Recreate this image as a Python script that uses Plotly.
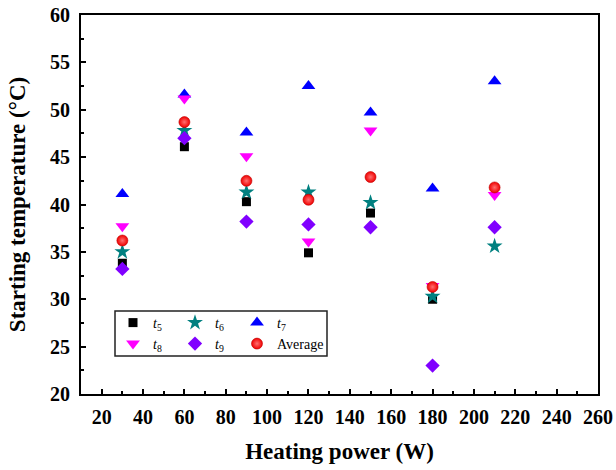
import plotly.graph_objects as go

power = [30, 60, 90, 120, 150, 180, 210]
t5 = [33.8, 46.1, 40.3, 34.9, 39.1, 30.0, None]
t6 = [35.0, 47.8, 41.3, 41.3, 40.2, 30.3, 35.6]
t7 = [41.1, 51.6, 47.6, 52.5, 49.7, 41.7, 53.0]
t8 = [37.7, 51.2, 45.1, 36.1, 47.8, 31.4, 41.0]
t9 = [33.2, 47.0, 38.2, 37.9, 37.6, 23.0, 37.6]
average = [36.2, 48.7, 42.5, 40.5, 42.9, 31.3, 41.8]

FONT = "Liberation Serif"
fig = go.Figure()

series = [
    ("<i>t</i><sub>5</sub>", t5, "square", "#000000", 9, "legend"),
    ("<i>t</i><sub>6</sub>", t6, "star", "#008080", 12, "legend"),
    ("<i>t</i><sub>7</sub>", t7, "triangle-up", "#0000FF", 12, "legend"),
    ("<i>t</i><sub>8</sub>", t8, "triangle-down", "#FF00FF", 12, "legend2"),
    ("<i>t</i><sub>9</sub>", t9, "diamond", "#8000FF", 11, "legend2"),
]
for name, vals, sym, col, sz, lg in series:
    fig.add_trace(go.Scatter(
        x=power, y=vals, mode="markers", name=name, legend=lg,
        marker=dict(symbol=sym, color=col, size=sz, line=dict(width=0)),
    ))

fig.add_trace(go.Scatter(
    x=power, y=average, mode="markers", name="Average", legend="legend2",
    legendwidth=70,
    marker=dict(symbol="circle", color="#F00000", size=11,
                line=dict(width=0.6, color="#c00000"),
                gradient=dict(type="radial", color="#ff7070")),
))

axis_common = dict(
    showline=True, linecolor="black", linewidth=2, mirror=True,
    ticks="inside", ticklen=5, tickwidth=2, tickcolor="black",
    showgrid=False, zeroline=False, automargin=False,
    tickfont=dict(family=FONT, size=20, color="black", weight="bold"),
)

TITLE_FONT = dict(family=FONT, size=23, color="black", weight="bold")

fig.update_xaxes(
    range=[10, 260], tick0=20, dtick=20,
    minor=dict(ticks="inside", ticklen=3, tickwidth=2, tickcolor="black", dtick=10, tick0=10, showgrid=False),
    title=dict(text="Heating power (W)", font=TITLE_FONT, standoff=16),
    ticklabelstandoff=4,
    **axis_common,
)
fig.update_yaxes(
    range=[20, 60], tick0=20, dtick=5,
    minor=dict(ticks="inside", ticklen=3, tickwidth=2, tickcolor="black", dtick=2.5, tick0=20, showgrid=False),
    title=dict(text="Starting temperature (°C)", font=TITLE_FONT, standoff=18),
    ticklabelstandoff=5,
    **axis_common,
)

leg_common = dict(
    orientation="h", xanchor="left", yanchor="top",
    bgcolor="rgba(0,0,0,0)", borderwidth=0,
    font=dict(family=FONT, size=14, color="black"),
    entrywidth=17, entrywidthmode="pixels", itemwidth=30,
    tracegroupgap=0,
)

W, H = 616, 470
L, R, T, B = 81, 18, 15, 76
pw, ph = W - L - R, H - T - B

def px_x(p):
    return (p - L) / pw

def px_y(p):
    return (H - B - p) / ph

fig.update_layout(
    template="none",
    width=W, height=H,
    margin=dict(l=L, r=R, t=T, b=B),
    paper_bgcolor="white", plot_bgcolor="white",
    font=dict(family=FONT, color="black"),
    legend=dict(x=px_x(113), y=px_y(307), **leg_common),
    legend2=dict(x=px_x(113), y=px_y(328), **leg_common),
    shapes=[dict(type="rect", xref="paper", yref="paper",
                 x0=px_x(115), x1=px_x(327), y0=px_y(356), y1=px_y(311),
                 line=dict(color="#222222", width=1.5), fillcolor="rgba(0,0,0,0)")],
)

fig.write_html(
    "out.html",
    config={"displayModeBar": False},
    post_script="document.documentElement.style.overflow='hidden';"
                "document.body.style.margin='0';document.body.style.overflow='hidden';",
)
